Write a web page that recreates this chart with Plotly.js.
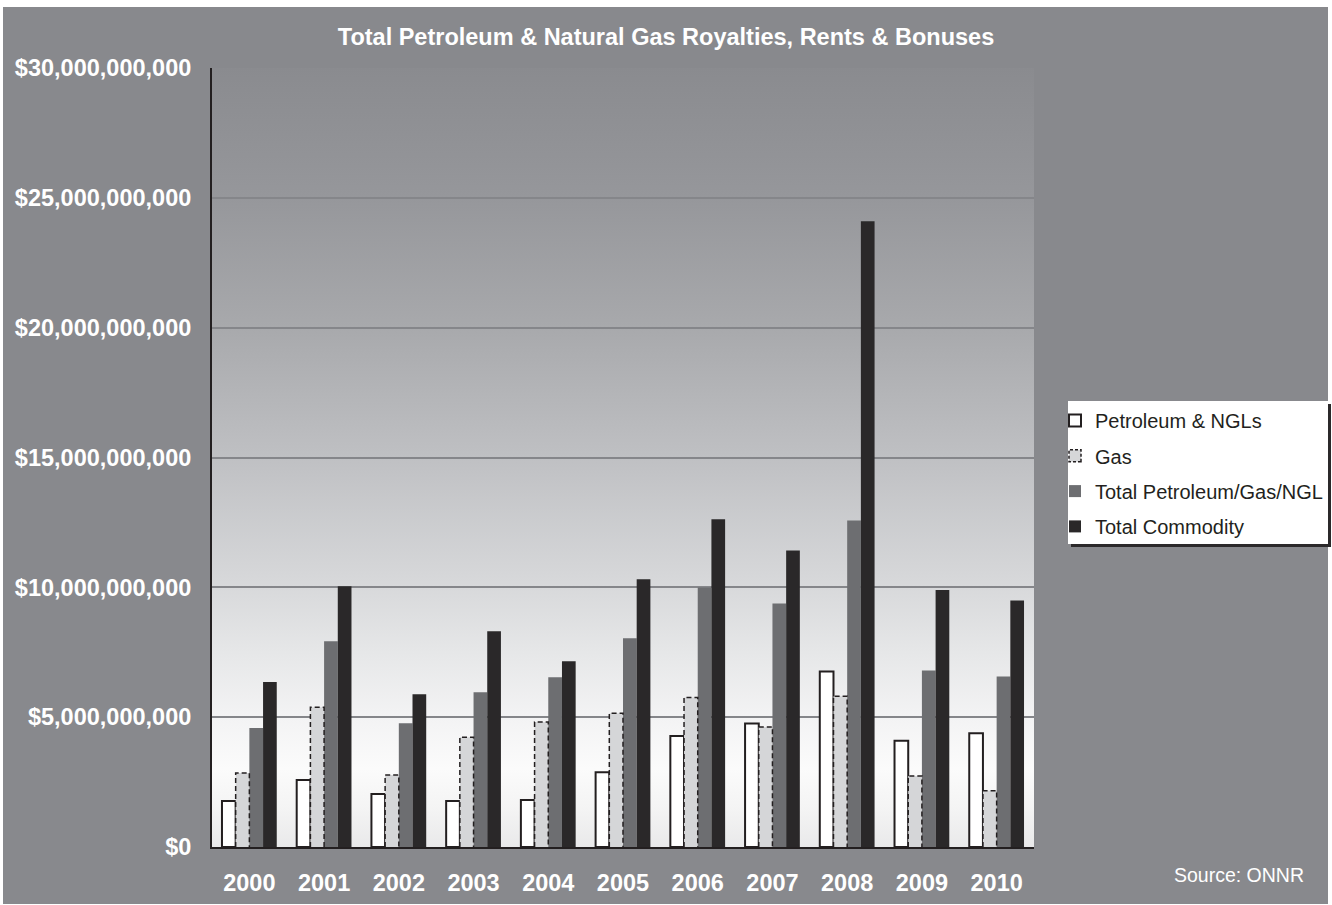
<!DOCTYPE html>
<html>
<head>
<meta charset="utf-8">
<script src="https://cdn.plot.ly/plotly-3.0.1.min.js"></script>
<style>html,body{margin:0;padding:0;background:#fff;overflow:hidden;}#chart{width:1332px;height:905px;}</style>
</head>
<body>
<div id="chart"></div>
<script>
// ---- data ----
const years = ["2000","2001","2002","2003","2004","2005","2006","2007","2008","2009","2010"];
const petroleumNGLs = [1.77e9, 2.58e9, 2.04e9, 1.77e9, 1.81e9, 2.88e9, 4.27e9, 4.76e9, 6.76e9, 4.09e9, 4.38e9];
const gas = [2.85e9, 5.38e9, 2.77e9, 4.23e9, 4.81e9, 5.15e9, 5.76e9, 4.62e9, 5.81e9, 2.73e9, 2.17e9];
const totalPetGasNGL = [4.58e9, 7.92e9, 4.77e9, 5.96e9, 6.54e9, 8.04e9, 9.99e9, 9.38e9, 12.57e9, 6.80e9, 6.57e9];
const totalCommodity = [6.35e9, 10.04e9, 5.88e9, 8.31e9, 7.15e9, 10.31e9, 12.62e9, 11.42e9, 24.10e9, 9.90e9, 9.49e9];
const seriesNames = ["Petroleum & NGLs", "Gas", "Total Petroleum/Gas/NGL", "Total Commodity"];
const yTicks = [0, 5e9, 10e9, 15e9, 20e9, 25e9, 30e9];
const yTickText = yTicks.map(v => '$' + v.toLocaleString('en-US'));

// ---- layout constants ----
const W = 1332, H = 905;
const M = {l: 212, r: 298, t: 68, b: 58};
const plotW = W - M.l - M.r, plotH = H - M.t - M.b;
const BARGAP = 0.267;
const groupW = 1 - BARGAP, barW = groupW / 4;
const xi = years.map((_, i) => i);
const font = 'Liberation Sans, Arial, Helvetica, sans-serif';

function px2x(p){ return (p - M.l) / plotW; }
function px2y(p){ return (H - M.b - p) / plotH; }

// dashed outline for gas bars, computed from data + bar geometry
const gx = [], gy = [];
gas.forEach((v, i) => {
  const x0 = i - groupW / 2 + barW, x1 = x0 + barW;
  gx.push(x0, x0, x1, x1, null);
  gy.push(0, v, v, 0, null);
});

const traces = [
  {type:'bar', name:seriesNames[0], x:xi, y:petroleumNGLs, legendgroup:'a',
   marker:{color:'#ffffff', line:{color:'#231f20', width:2}}},
  {type:'bar', name:seriesNames[1], x:xi, y:gas, legendgroup:'b',
   marker:{color:'#d5d6d8', line:{width:0}}},
  {type:'bar', name:seriesNames[2], x:xi, y:totalPetGasNGL, legendgroup:'c',
   marker:{color:'#6d6e71', line:{width:0}}},
  {type:'bar', name:seriesNames[3], x:xi, y:totalCommodity, legendgroup:'d',
   marker:{color:'#2a2829', line:{width:0}}},
  {type:'scatter', mode:'lines', x:gx, y:gy, showlegend:false, hoverinfo:'skip',
   line:{color:'#231f20', width:1.5, dash:'5px,3px'}}
];

const grad = "<svg xmlns='http://www.w3.org/2000/svg' width='10' height='200' preserveAspectRatio='none'>" +
  "<defs><linearGradient id='g' x1='0' y1='0' x2='0' y2='1'>" +
  "<stop offset='0' stop-color='#8a8b8f'/>" +
  "<stop offset='0.167' stop-color='#96979b'/>" +
  "<stop offset='0.333' stop-color='#a8a9ac'/>" +
  "<stop offset='0.5' stop-color='#bfc0c3'/>" +
  "<stop offset='0.667' stop-color='#d8d9db'/>" +
  "<stop offset='0.75' stop-color='#e6e7e8'/>" +
  "<stop offset='0.833' stop-color='#f3f3f4'/>" +
  "<stop offset='0.9' stop-color='#fbfbfb'/>" +
  "<stop offset='0.95' stop-color='#f4f4f4'/>" +
  "<stop offset='1' stop-color='#e9e9ea'/>" +
  "</linearGradient></defs><rect width='10' height='200' fill='url(#g)'/></svg>";

const shapes = [
  // white frame strips around the grey panel
  {type:'rect', xref:'paper', yref:'paper', x0:px2x(0), x1:px2x(W), y0:px2y(7), y1:px2y(0), fillcolor:'#ffffff', line:{width:0}, layer:'above'},
  {type:'rect', xref:'paper', yref:'paper', x0:px2x(0), x1:px2x(3), y0:px2y(H), y1:px2y(0), fillcolor:'#ffffff', line:{width:0}, layer:'above'},
  {type:'rect', xref:'paper', yref:'paper', x0:px2x(1328), x1:px2x(W), y0:px2y(H), y1:px2y(0), fillcolor:'#ffffff', line:{width:0}, layer:'above'},
  {type:'rect', xref:'paper', yref:'paper', x0:px2x(0), x1:px2x(W), y0:px2y(H), y1:px2y(904), fillcolor:'#ffffff', line:{width:0}, layer:'above'},
  // legend box shadow and box
  {type:'rect', xref:'paper', yref:'paper', x0:px2x(1071), x1:px2x(1331), y0:px2y(547), y1:px2y(404), fillcolor:'#2b292a', line:{width:0}, layer:'above'},
  {type:'rect', xref:'paper', yref:'paper', x0:px2x(1068), x1:px2x(1328), y0:px2y(544), y1:px2y(401), fillcolor:'#ffffff', line:{width:0}, layer:'above'}
];

const layout = {
  width:W, height:H,
  margin:M,
  paper_bgcolor:'#88898d',
  plot_bgcolor:'rgba(0,0,0,0)',
  barmode:'group', bargap:BARGAP, bargroupgap:0,
  title:{text:'Total Petroleum & Natural Gas Royalties, Rents & Bonuses',
         font:{family:font, size:23.5, color:'#ffffff', weight:700},
         x:0.5, xref:'container', xanchor:'center', y:1 - 37/H, yref:'container', yanchor:'middle'},
  xaxis:{type:'linear', range:[-0.5, 10.5], tickvals:xi, ticktext:years,
         showgrid:false, zeroline:false, showline:true, linecolor:'#231f20', linewidth:2,
         ticks:'', ticklabelstandoff:14, automargin:false,
         tickfont:{family:font, size:23.5, color:'#ffffff', weight:700}, fixedrange:true},
  yaxis:{range:[0, 30e9], tickvals:yTicks, ticktext:yTickText,
         showgrid:true, gridcolor:'#85868a', gridwidth:2, zeroline:false,
         showline:true, linecolor:'#231f20', linewidth:2,
         ticks:'', ticklabelstandoff:14, automargin:false,
         tickfont:{family:font, size:23.5, color:'#ffffff', weight:700}, fixedrange:true},
  images:[{source:'data:image/svg+xml;charset=utf-8,' + encodeURIComponent(grad),
           xref:'paper', yref:'paper', x:0, y:1, sizex:1, sizey:1,
           xanchor:'left', yanchor:'top', sizing:'stretch', layer:'below'}],
  shapes:shapes,
  legend:{xref:'container', yref:'container', x:1055/W, y:1 - 401/H, xanchor:'left', yanchor:'top',
          bgcolor:'rgba(0,0,0,0)', borderwidth:0,
          font:{family:font, size:20, color:'#231f20'},
          traceorder:'grouped', tracegroupgap:6.3},
  annotations:[{text:'Source: ONNR', xref:'paper', yref:'paper', x:px2x(1306), y:px2y(875),
                xanchor:'right', yanchor:'middle', showarrow:false,
                font:{family:font, size:19.5, color:'#ffffff'}}],
  showlegend:true
};

Plotly.newPlot('chart', traces, layout, {displayModeBar:false, staticPlot:true}).then(gd => {
  // give the Gas legend swatch the same dashed outline as its bars
  const items = gd.querySelectorAll('.legend .traces');
  items.forEach(it => {
    if (it.textContent.trim() === seriesNames[1]) {
      it.querySelectorAll('.legendpoints path').forEach(p => {
        p.style.stroke = '#231f20';
        p.style.strokeWidth = '1.5px';
        p.style.strokeDasharray = '3px,2px';
      });
    }
  });
});
</script>
</body>
</html>
